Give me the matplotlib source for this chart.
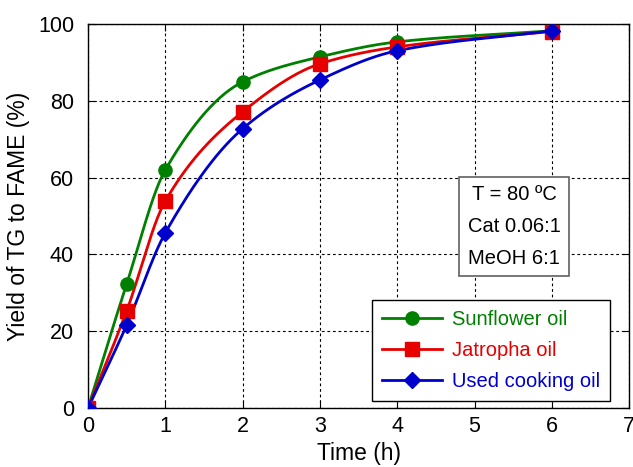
import numpy as np
import matplotlib

matplotlib.use("Agg")
import matplotlib.pyplot as plt

plt.rcParams["font.family"] = ["Liberation Sans", "DejaVu Sans"]

time_h = [0, 0.5, 1, 2, 3, 4, 6]
sunflower = [0, 32.3, 62.0, 84.9, 91.4, 95.3, 98.2]
jatropha = [0, 25.3, 53.9, 77.1, 89.6, 94.0, 98.0]
used_oil = [0, 21.6, 45.6, 72.7, 85.4, 93.0, 98.2]

series_names = ["Sunflower oil", "Jatropha oil", "Used cooking oil"]
conditions = ["T = 80 ºC", "Cat 0.06:1", "MeOH 6:1"]


def _pchip(x, y, xs):
    # monotone cubic (Fritsch-Carlson), used only for the smooth connecting line
    x = np.asarray(x, float)
    y = np.asarray(y, float)
    h = np.diff(x)
    d = np.diff(y) / h
    m = np.zeros_like(y)
    for k in range(1, len(x) - 1):
        if d[k - 1] * d[k] > 0:
            w1 = 2 * h[k] + h[k - 1]
            w2 = h[k] + 2 * h[k - 1]
            m[k] = (w1 + w2) / (w1 / d[k - 1] + w2 / d[k])
    m[0] = d[0]
    m[-1] = d[-1]
    idx = np.clip(np.searchsorted(x, xs) - 1, 0, len(x) - 2)
    t = (xs - x[idx]) / h[idx]
    h00 = 2 * t**3 - 3 * t**2 + 1
    h10 = t**3 - 2 * t**2 + t
    h01 = -2 * t**3 + 3 * t**2
    h11 = t**3 - t**2
    return h00 * y[idx] + h10 * h[idx] * m[idx] + h01 * y[idx + 1] + h11 * h[idx] * m[idx + 1]


fig, ax = plt.subplots(figsize=(6.33, 4.67), dpi=100)
fig.subplots_adjust(left=0.139, right=0.994, top=0.949, bottom=0.126)

styles = [
    ("#008000", "o", 9.5),
    ("#e60000", "s", 9.5),
    ("#0000cc", "D", 8.5),
]
xs = np.linspace(0, 6, 300)
for vals, name, (col, mk, ms) in zip([sunflower, jatropha, used_oil], series_names, styles):
    ax.plot(xs, _pchip(time_h, vals, xs), color=col, lw=2.0, zorder=3)
    ax.plot(time_h, vals, ls="none", marker=mk, ms=ms, color=col, zorder=4)
    ax.plot([], [], color=col, lw=2.0, marker=mk, ms=ms, label=name)

ax.set_xlim(0, 7)
ax.set_ylim(0, 100)
ax.set_xticks(range(0, 8))
ax.set_yticks(range(0, 101, 20))
ax.tick_params(direction="in", top=True, right=True, labelsize=15.5, length=5)
ax.tick_params(axis="x", pad=6)
ax.tick_params(axis="y", pad=10)
ax.grid(True, color="black", ls=(0, (2.5, 2.5)), lw=0.8)
for sp in ax.spines.values():
    sp.set_linewidth(1.0)
ax.set_xlabel("Time (h)", fontsize=16.5, labelpad=3)
ax.set_ylabel("Yield of TG to FAME (%)", fontsize=16.5, labelpad=6)

ax.text(
    5.51, 47.3, "\n".join(conditions), ha="center", va="center", fontsize=14.5,
    linespacing=1.85, zorder=5,
    bbox=dict(boxstyle="square,pad=0.42", fc="white", ec="#606060", lw=1.2),
)

leg = ax.legend(
    loc="lower right", bbox_to_anchor=(0.965, 0.018), borderaxespad=0,
    fontsize=14.5, frameon=True, fancybox=False, edgecolor="black", framealpha=1,
    borderpad=0.5, handlelength=3.0, handletextpad=0.5, labelspacing=0.6,
)
leg.get_frame().set_linewidth(1.0)
for txt, (col, _, _) in zip(leg.get_texts(), styles):
    txt.set_color(col)

fig.savefig("out.png", dpi=100)
